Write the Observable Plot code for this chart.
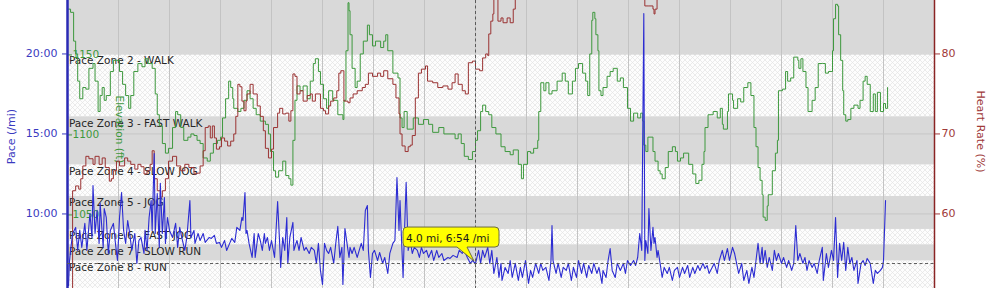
<!DOCTYPE html>
<html>
<head>
<meta charset="utf-8">
<script src="https://cdn.jsdelivr.net/npm/d3@7"></script>
<script src="https://cdn.jsdelivr.net/npm/@observablehq/plot@0.6"></script>
<style>
html, body { margin: 0; padding: 0; background: #ffffff; }
#chart { width: 1000px; height: 288px; overflow: hidden; }
</style>
</head>
<body>
<svg width="0" height="0" style="position:absolute">
  <defs>
    <pattern id="hatch" width="5" height="5" patternUnits="userSpaceOnUse">
      <rect width="5" height="5" fill="#fdfdfd"></rect>
      <path d="M0,0L5,5M5,0L0,5" stroke="#e4e4e4" stroke-width="0.7"></path>
    </pattern>
  </defs>
</svg>
<div id="chart"></div>
<script>
// ---------- data ----------
const paceSeries = [ // [miles, pace in minutes per mile]
[0.01,5.53],[0.02,7.09],[0.03,7.72],[0.05,8.78],[0.08,9.16],[0.10,7.72],[0.12,8.97],[0.14,7.91],[0.17,9.41],[0.19,7.72],
[0.22,10.03],[0.24,8.53],[0.25,11.78],[0.27,8.78],[0.29,10.22],[0.31,8.16],[0.32,10.66],[0.35,7.91],[0.36,10.34],[0.38,9.78],
[0.40,7.53],[0.42,8.97],[0.45,9.41],[0.47,8.16],[0.49,7.09],[0.51,9.78],[0.53,11.34],[0.55,8.97],[0.57,8.16],[0.59,9.59],
[0.61,8.78],[0.63,7.72],[0.66,8.78],[0.68,6.91],[0.70,8.34],[0.72,8.53],[0.75,7.53],[0.76,8.97],[0.78,7.72],[0.80,9.78],
[0.82,10.84],[0.83,8.97],[0.85,13.78],[0.86,8.78],[0.88,11.28],[0.90,7.91],[0.91,11.91],[0.93,8.78],[0.95,11.03],[0.96,8.16],
[0.98,9.78],[1.00,8.97],[1.03,8.53],[1.06,9.41],[1.08,7.91],[1.10,9.16],[1.12,8.53],[1.15,7.72],[1.17,8.53],[1.20,10.84],
[1.21,8.53],[1.24,8.97],[1.25,8.16],[1.28,8.78],[1.30,8.34],[1.33,8.78],[1.35,8.22],[1.39,8.53],[1.41,8.47],[1.44,8.66],
[1.46,8.16],[1.49,8.22],[1.51,7.91],[1.54,8.34],[1.56,7.72],[1.59,8.16],[1.61,8.47],[1.64,8.22],[1.66,9.16],[1.69,8.97],
[1.71,9.78],[1.72,9.59],[1.74,11.34],[1.75,8.78],[1.76,8.97],[1.78,8.16],[1.81,7.28],[1.83,8.78],[1.84,7.28],[1.87,8.78],
[1.89,8.34],[1.91,7.72],[1.93,8.78],[1.94,8.16],[1.96,8.53],[1.98,7.72],[2.00,8.34],[2.03,7.28],[2.06,10.78],[2.08,8.16],
[2.09,6.66],[2.11,8.53],[2.13,7.72],[2.15,9.78],[2.16,6.91],[2.18,8.53],[2.21,9.47],[2.22,7.72],[2.24,8.16],[2.25,8.34],
[2.27,7.72],[2.29,8.53],[2.32,7.72],[2.34,7.91],[2.37,7.53],[2.39,7.91],[2.42,7.72],[2.44,6.91],[2.46,8.16],[2.48,6.47],
[2.50,5.59],[2.52,8.16],[2.54,7.72],[2.56,7.53],[2.58,7.91],[2.61,6.91],[2.63,8.16],[2.65,9.22],[2.67,7.28],[2.69,7.91],
[2.70,5.59],[2.72,9.09],[2.75,7.72],[2.76,7.28],[2.77,7.91],[2.79,7.53],[2.81,7.91],[2.84,7.28],[2.86,7.72],[2.88,8.16],
[2.90,7.72],[2.92,10.22],[2.94,10.53],[2.95,7.72],[2.97,6.03],[2.99,7.53],[3.01,7.72],[3.04,7.09],[3.06,7.59],[3.09,6.91],
[3.11,7.28],[3.14,6.28],[3.16,7.53],[3.19,8.16],[3.21,8.34],[3.23,12.28],[3.25,8.97],[3.26,10.84],[3.27,9.16],[3.29,6.03],
[3.30,8.16],[3.32,11.97],[3.33,9.78],[3.34,7.72],[3.36,8.34],[3.38,7.53],[3.40,7.91],[3.43,7.72],[3.45,7.28],[3.47,7.91],
[3.49,7.53],[3.52,7.72],[3.54,7.28],[3.57,7.72],[3.59,7.09],[3.62,7.72],[3.64,7.28],[3.67,7.53],[3.69,7.09],[3.73,7.28],
[3.75,7.22],[3.78,7.41],[3.82,7.28],[3.84,7.72],[3.87,7.53],[3.89,7.72],[3.92,7.28],[3.95,6.91],[3.97,7.09],[4.00,6.90],
[4.03,7.72],[4.05,6.91],[4.07,7.72],[4.09,7.28],[4.12,7.91],[4.14,6.91],[4.16,7.72],[4.18,6.28],[4.21,7.28],[4.23,6.03],
[4.25,6.91],[4.26,5.84],[4.29,6.66],[4.32,6.28],[4.34,7.09],[4.36,6.03],[4.39,6.91],[4.42,5.84],[4.44,6.66],[4.46,6.03],
[4.49,7.09],[4.52,5.66],[4.54,6.47],[4.56,6.03],[4.59,6.91],[4.62,6.28],[4.64,6.91],[4.66,6.47],[4.69,6.66],[4.72,5.84],
[4.74,7.09],[4.75,9.28],[4.76,7.09],[4.79,6.28],[4.81,6.91],[4.84,6.03],[4.86,6.66],[4.89,6.47],[4.91,6.91],[4.94,5.84],
[4.96,6.66],[4.99,6.03],[5.01,7.09],[5.04,6.28],[5.06,6.91],[5.09,6.03],[5.11,6.78],[5.14,6.28],[5.16,6.91],[5.19,6.28],
[5.21,6.66],[5.24,5.66],[5.25,6.47],[5.28,6.03],[5.30,7.09],[5.32,7.84],[5.34,6.47],[5.37,6.03],[5.39,6.91],[5.42,6.47],
[5.45,6.91],[5.47,6.28],[5.49,7.09],[5.52,6.78],[5.55,7.09],[5.57,6.78],[5.59,7.28],[5.61,8.78],[5.63,7.72],[5.65,22.53],
[5.66,7.09],[5.67,8.34],[5.69,7.53],[5.70,10.34],[5.72,7.72],[5.74,9.16],[5.75,8.16],[5.76,8.53],[5.78,7.28],[5.79,7.72],
[5.81,6.91],[5.83,6.03],[5.85,6.66],[5.88,6.28],[5.90,6.66],[5.93,5.84],[5.95,6.47],[5.98,6.66],[6.00,6.03],[6.03,6.66],
[6.05,6.28],[6.08,6.78],[6.10,6.03],[6.13,6.66],[6.15,6.28],[6.18,6.78],[6.20,6.47],[6.23,6.91],[6.25,6.59],[6.27,6.78],
[6.29,6.28],[6.32,6.66],[6.34,6.91],[6.37,6.28],[6.39,7.09],[6.42,7.72],[6.44,7.09],[6.47,7.84],[6.49,7.09],[6.52,7.91],
[6.54,7.53],[6.56,6.91],[6.58,6.28],[6.61,6.91],[6.63,5.84],[6.66,6.47],[6.68,5.66],[6.71,6.66],[6.73,6.03],[6.75,7.09],
[6.77,8.16],[6.79,6.91],[6.81,7.91],[6.82,6.91],[6.84,7.72],[6.86,6.66],[6.88,7.28],[6.91,6.47],[6.93,7.72],[6.95,7.09],
[6.97,7.53],[7.00,6.91],[7.02,7.28],[7.05,6.66],[7.07,7.09],[7.10,6.47],[7.12,6.91],[7.14,9.28],[7.16,7.09],[7.18,7.53],
[7.21,6.91],[7.23,7.28],[7.25,6.47],[7.27,7.09],[7.30,6.66],[7.32,6.91],[7.35,6.28],[7.37,7.09],[7.40,7.91],[7.41,5.84],
[7.44,7.53],[7.46,6.66],[7.49,7.72],[7.51,7.09],[7.53,9.78],[7.55,6.03],[7.57,8.16],[7.59,7.09],[7.61,8.22],[7.63,6.47],
[7.65,7.91],[7.67,6.91],[7.69,7.28],[7.71,6.47],[7.74,7.09],[7.75,5.66],[7.78,6.91],[7.80,7.09],[7.82,6.78],[7.84,7.22],
[7.87,6.91],[7.90,5.66],[7.92,6.47],[7.94,6.28],[7.97,6.47],[7.99,6.66],[8.00,7.09],[8.02,10.84]
];

const elevSeries = [ // [miles, elevation in feet]
[0.01,1178],[0.03,1176],[0.06,1158],[0.08,1150],[0.10,1133],[0.12,1122],[0.15,1129],[0.18,1128],[0.21,1141],[0.25,1144],
[0.27,1133],[0.30,1114],[0.32,1124],[0.34,1129],[0.36,1121],[0.38,1124],[0.42,1139],[0.45,1146],[0.48,1146],[0.51,1139],
[0.54,1131],[0.57,1124],[0.60,1116],[0.62,1124],[0.65,1139],[0.69,1144],[0.73,1142],[0.76,1147],[0.79,1144],[0.81,1144],
[0.83,1141],[0.86,1125],[0.88,1112],[0.90,1105],[0.93,1094],[0.96,1088],[0.99,1091],[1.03,1104],[1.06,1114],[1.08,1112],
[1.11,1104],[1.14,1096],[1.18,1098],[1.21,1100],[1.24,1099],[1.27,1096],[1.30,1094],[1.33,1085],[1.37,1083],[1.40,1088],
[1.43,1094],[1.47,1096],[1.50,1098],[1.52,1110],[1.55,1122],[1.58,1133],[1.60,1129],[1.62,1122],[1.63,1116],[1.67,1114],
[1.70,1116],[1.73,1121],[1.76,1127],[1.79,1122],[1.82,1116],[1.85,1112],[1.89,1108],[1.94,1106],[1.97,1100],[1.99,1089],
[2.02,1077],[2.04,1073],[2.07,1077],[2.11,1083],[2.14,1074],[2.17,1072],[2.19,1068],[2.21,1096],[2.23,1121],[2.25,1130],
[2.28,1127],[2.31,1130],[2.35,1122],[2.38,1133],[2.41,1144],[2.43,1147],[2.46,1139],[2.48,1131],[2.51,1122],[2.54,1116],
[2.56,1127],[2.60,1121],[2.65,1112],[2.70,1109],[2.71,1121],[2.73,1152],[2.75,1182],[2.76,1177],[2.77,1162],[2.79,1141],
[2.82,1129],[2.84,1133],[2.87,1150],[2.90,1158],[2.94,1168],[2.96,1162],[2.99,1155],[3.02,1158],[3.07,1154],[3.10,1158],
[3.12,1162],[3.14,1152],[3.19,1138],[3.24,1135],[3.26,1110],[3.28,1104],[3.30,1114],[3.33,1103],[3.39,1110],[3.44,1106],
[3.49,1109],[3.54,1106],[3.58,1101],[3.64,1104],[3.69,1100],[3.75,1100],[3.80,1097],[3.83,1100],[3.86,1094],[3.89,1086],
[3.93,1084],[3.97,1089],[4.00,1096],[4.02,1102],[4.05,1114],[4.07,1118],[4.10,1114],[4.13,1112],[4.16,1104],[4.20,1100],
[4.25,1092],[4.29,1089],[4.34,1087],[4.37,1090],[4.42,1081],[4.45,1072],[4.47,1081],[4.51,1089],[4.54,1088],[4.57,1091],
[4.61,1096],[4.62,1114],[4.64,1132],[4.67,1127],[4.69,1132],[4.72,1125],[4.75,1127],[4.80,1133],[4.85,1138],[4.88,1133],
[4.91,1125],[4.95,1133],[4.98,1141],[5.01,1144],[5.05,1138],[5.08,1133],[5.10,1124],[5.12,1150],[5.14,1171],[5.15,1176],
[5.17,1172],[5.18,1162],[5.20,1152],[5.21,1127],[5.23,1124],[5.25,1129],[5.29,1136],[5.32,1139],[5.35,1141],[5.39,1133],
[5.42,1135],[5.45,1129],[5.49,1116],[5.52,1108],[5.55,1113],[5.59,1110],[5.62,1113],[5.64,1108],[5.65,1093],[5.67,1089],
[5.69,1098],[5.72,1098],[5.74,1089],[5.76,1083],[5.79,1077],[5.81,1075],[5.83,1072],[5.86,1079],[5.89,1089],[5.93,1092],
[5.96,1089],[5.98,1083],[6.01,1085],[6.04,1088],[6.09,1081],[6.13,1075],[6.16,1069],[6.19,1071],[6.22,1081],[6.24,1089],
[6.25,1104],[6.28,1112],[6.33,1114],[6.37,1110],[6.40,1116],[6.42,1106],[6.43,1103],[6.47,1114],[6.48,1125],[6.52,1121],
[6.53,1116],[6.57,1122],[6.60,1120],[6.63,1129],[6.67,1132],[6.70,1124],[6.73,1104],[6.75,1092],[6.77,1079],[6.79,1071],
[6.81,1062],[6.82,1048],[6.84,1046],[6.86,1055],[6.87,1062],[6.91,1077],[6.94,1088],[6.96,1096],[6.97,1127],[7.01,1128],
[7.04,1139],[7.06,1133],[7.09,1135],[7.12,1148],[7.16,1146],[7.17,1141],[7.19,1147],[7.21,1139],[7.24,1129],[7.26,1114],
[7.30,1121],[7.33,1129],[7.36,1144],[7.40,1144],[7.43,1138],[7.46,1139],[7.50,1152],[7.51,1172],[7.53,1181],[7.55,1180],
[7.56,1162],[7.58,1146],[7.60,1127],[7.61,1112],[7.63,1108],[7.65,1109],[7.68,1116],[7.71,1118],[7.75,1116],[7.77,1121],
[7.80,1133],[7.82,1136],[7.84,1131],[7.87,1114],[7.90,1125],[7.92,1114],[7.94,1126],[7.97,1114],[8.00,1119],[8.02,1116],[8.04,1129]
];

const hrSeries = [ // [miles, heart rate in % of max]
[0.03,50.4],[0.05,62.9],[0.08,63.5],[0.11,63.1],[0.13,64.4],[0.15,66.0],[0.18,67.2],[0.21,66.9],[0.25,66.2],[0.27,67.2],
[0.31,66.2],[0.34,67.0],[0.37,65.8],[0.41,64.1],[0.43,64.4],[0.45,65.4],[0.48,66.6],[0.51,66.0],[0.56,67.0],[0.59,66.6],
[0.62,66.2],[0.66,65.6],[0.69,66.2],[0.72,65.9],[0.75,65.0],[0.78,65.4],[0.81,66.2],[0.83,67.9],[0.85,64.4],[0.88,62.9],
[0.91,62.1],[0.93,62.9],[0.96,64.4],[0.99,66.6],[1.03,67.2],[1.07,66.0],[1.11,65.4],[1.15,66.2],[1.19,65.8],[1.24,65.0],
[1.27,65.1],[1.30,66.0],[1.33,67.9],[1.35,70.8],[1.38,71.0],[1.40,69.5],[1.42,71.0],[1.44,69.5],[1.46,68.1],[1.49,68.4],
[1.51,69.5],[1.54,69.1],[1.57,68.5],[1.60,69.1],[1.63,70.0],[1.65,72.2],[1.67,76.2],[1.69,75.9],[1.71,74.1],[1.73,72.9],
[1.75,74.1],[1.76,75.0],[1.79,76.2],[1.82,75.0],[1.86,73.5],[1.89,72.2],[1.92,70.4],[1.94,68.2],[1.97,67.0],[2.00,68.1],
[2.02,70.8],[2.06,72.6],[2.08,73.2],[2.11,72.5],[2.14,72.6],[2.17,71.6],[2.19,72.9],[2.21,77.5],[2.23,77.2],[2.25,75.0],
[2.28,75.4],[2.31,74.1],[2.35,74.8],[2.38,75.0],[2.40,74.1],[2.43,75.0],[2.48,73.2],[2.51,72.9],[2.53,72.5],[2.56,73.5],
[2.58,74.1],[2.61,74.5],[2.64,75.4],[2.66,77.6],[2.68,77.9],[2.71,74.1],[2.75,73.9],[2.77,74.5],[2.80,75.0],[2.84,75.4],
[2.89,75.8],[2.92,76.2],[2.95,77.6],[2.99,77.2],[3.04,77.6],[3.07,77.2],[3.10,77.9],[3.14,76.9],[3.19,76.2],[3.22,74.5],
[3.25,72.5],[3.26,70.0],[3.28,68.5],[3.31,67.8],[3.34,68.4],[3.36,68.6],[3.38,69.8],[3.41,74.5],[3.44,77.6],[3.47,78.1],
[3.51,78.5],[3.53,76.6],[3.58,76.4],[3.63,75.8],[3.68,76.0],[3.73,75.6],[3.77,76.4],[3.80,77.5],[3.83,76.2],[3.87,75.4],
[3.90,75.0],[3.93,78.9],[3.97,79.1],[4.00,78.1],[4.04,77.9],[4.07,79.5],[4.10,80.0],[4.12,79.8],[4.13,82.5],[4.15,84.1],
[4.17,85.0],[4.18,87.0],[4.20,87.0],[4.22,84.1],[4.25,84.5],[4.27,83.9],[4.31,84.5],[4.34,83.9],[4.37,85.6],[4.39,87.2],
[4.54,89.0],[4.83,90.0],[5.23,89.0],[5.52,88.5],[5.65,87.0],[5.66,86.0],[5.70,86.0],[5.74,85.6],[5.75,85.0],[5.76,85.6],
[5.78,87.0],[6.01,89.0],[6.70,90.0],[7.38,89.0],[8.02,88.0]
];

const zoneNames   = ["Pace Zone 1", "Pace Zone 2 - WALK", "Pace Zone 3 - FAST WALK", "Pace Zone 4 - SLOW JOG",
                     "Pace Zone 5 - JOG", "Pace Zone 6 - FAST JOG", "Pace Zone 7 - SLOW RUN", "Pace Zone 8 - RUN"];
const zoneSlowest = [30, 20, 16.08, 13.05, 11.1, 9.03, 8.08, 7.05];   // min/mi, upper edge
const zoneFastest = [20, 16.08, 13.05, 11.1, 9.03, 8.08, 7.05, 0];    // min/mi, lower edge
const zoneShaded  = [true, false, true, false, true, false, true, false];

const paceTicks = [10, 15, 20];          // min/mi
const hrTicks = [60, 70, 80];            // %
const elevTicks = [1050, 1100, 1150];    // ft
const gridMiles = [0.5, 1, 1.5, 2, 2.5, 3, 3.5, 4, 4.5, 5, 5.5, 6, 6.5, 7, 7.5, 8];
const xDomain = [0, 8.5];
const yDomain = [5.34, 23.34];
const cursorMiles = 4.0;
const cursorPace = 6.9;

// ---------- helpers ----------
const hrToPace = d3.scaleLinear().domain([hrTicks[0], hrTicks[2]]).range([paceTicks[0], paceTicks[2]]);
const elToPace = d3.scaleLinear().domain([elevTicks[0], elevTicks[2]]).range([paceTicks[0], paceTicks[2]]);
const fmtPace = m => { const s = Math.round(m * 60); return Math.floor(s / 60) + ":" + String(s % 60).padStart(2, "0"); };

const zones = zoneNames.map((name, i) => ({name, lo: zoneFastest[i], hi: zoneSlowest[i], shaded: zoneShaded[i]}));
const paceData = paceSeries.map(([mi, v]) => ({mi, v}));
const elevData = elevSeries.map(([mi, ft]) => ({mi, v: elToPace(ft)}));
const hrData = hrSeries.map(([mi, pct]) => ({mi, v: hrToPace(pct)}));

const BLUE_LINE = "#2c2cd2", BLUE_AXIS = "#2a2ab4", BLUE_TEXT = "#3a3ac0";
const GREEN = "#3d983d";
const RED_LINE = "#9a3232", RED_AXIS = "#8a2424", RED_TEXT = "#a03a3a";
const FONT = "'DejaVu Sans', Verdana, sans-serif";

const chart = Plot.plot({
  width: 1000, height: 288,
  marginLeft: 67, marginRight: 66, marginTop: 0, marginBottom: 0,
  x: {domain: xDomain, axis: null},
  y: {domain: yDomain},
  style: {fontFamily: FONT, fontSize: "10.5px", background: "#ffffff", overflow: "hidden"},
  marks: [
    Plot.rect(zones.filter(z => z.shaded), {x1: () => xDomain[0], x2: () => xDomain[1], y1: "lo", y2: "hi", fill: "#d9d9d9", clip: true}),
    Plot.rect(zones.filter(z => !z.shaded), {x1: () => xDomain[0], x2: () => xDomain[1], y1: "lo", y2: "hi", fill: "url(#hatch)", clip: true}),
    Plot.ruleX(gridMiles, {stroke: "#c3c3c3", strokeWidth: 1}),
    Plot.ruleY(paceTicks, {stroke: "#c6c6c6", strokeWidth: 1}),
    Plot.text(zones.filter(z => z.hi < yDomain[1]), {frameAnchor: "left", y: "hi", text: "name", textAnchor: "start",
      lineAnchor: "top", dx: 1.5, dy: 2.5, fill: "#262626", fontSize: 10.5}),
    // elevation axis (inside, green)
    Plot.axisY(paceTicks, {anchor: "left", tickSize: -5, tickPadding: 0, textAnchor: "start", dy: 1,
      tickFormat: d => String(Math.round(elToPace.invert(d))), color: GREEN, fontSize: 10.5, label: null}),
    Plot.text(["Elevation (ft)"], {frameAnchor: "left", dx: 52, dy: -15, rotate: 90, textAnchor: "middle", lineAnchor: "middle",
      fill: GREEN, fontSize: 10.5}),
    // series
    Plot.line(elevData, {x: "mi", y: "v", stroke: GREEN, strokeWidth: 1, curve: "step-after", clip: true}),
    Plot.line(hrData, {x: "mi", y: "v", stroke: RED_LINE, strokeWidth: 1, curve: "step-after", clip: true}),
    Plot.line(paceData, {x: "mi", y: "v", stroke: BLUE_LINE, strokeWidth: 1.1, clip: true}),
    // axes
    Plot.ruleX([xDomain[0]], {stroke: BLUE_AXIS, strokeWidth: 2.5}),
    Plot.ruleX([xDomain[1]], {stroke: RED_AXIS, strokeWidth: 1.5}),
    Plot.axisY(paceTicks, {anchor: "left", tickSize: 5, tickPadding: 5, tickFormat: fmtPace, color: BLUE_TEXT, fontSize: 11, label: null}),
    Plot.axisY(paceTicks, {anchor: "right", tickSize: 5, tickPadding: 2, tickFormat: d => String(Math.round(hrToPace.invert(d))),
      color: RED_TEXT, fontSize: 11, label: null}),
    Plot.text(["Pace (/mi)"], {frameAnchor: "left", dx: -56, dy: -8, rotate: -90, textAnchor: "middle", lineAnchor: "middle",
      fill: BLUE_TEXT, fontSize: 11}),
    Plot.text(["Heart Rate (%)"], {frameAnchor: "right", dx: 46, dy: -13, rotate: 90, textAnchor: "middle", lineAnchor: "middle",
      fill: RED_TEXT, fontSize: 11}),
    // crosshair
    Plot.ruleX([cursorMiles], {stroke: "#5a5a5a", strokeDasharray: "3,2.5"}),
    Plot.ruleY([cursorPace], {stroke: "#5a5a5a", strokeDasharray: "3,2.5"})
  ]
});
document.getElementById("chart").appendChild(chart);

// tooltip, placed with the plot's own scales
const sx = chart.scale("x"), sy = chart.scale("y");
const fx = d3.scaleLinear(sx.domain, sx.range), fy = d3.scaleLinear(sy.domain, sy.range);
const px = fx(cursorMiles), py = fy(cursorPace);
const L = px - 72, R = px + 24, T = py - 36, B = py - 16, r = 4;
const tip = d3.select(chart).append("g").attr("class", "tooltip");
tip.append("path")
  .attr("d", `M${L + r},${T}H${R - r}Q${R},${T} ${R},${T + r}V${B - r}Q${R},${B} ${R - r},${B}H${px - 8}L${px - 1},${py - 2}L${px - 18},${B}H${L + r}Q${L},${B} ${L},${B - r}V${T + r}Q${L},${T} ${L + r},${T}Z`)
  .attr("fill", "#ffff00").attr("stroke", "#6b6b40").attr("stroke-width", 1);
tip.append("text")
  .attr("x", L + 3).attr("y", B - 5.5)
  .attr("text-anchor", "start")
  .attr("font-family", FONT).attr("font-size", 10.5).attr("fill", "#1a1a1a")
  .text(`${cursorMiles.toFixed(1)} mi, ${fmtPace(cursorPace)} /mi`);
</script>
</body>
</html>
